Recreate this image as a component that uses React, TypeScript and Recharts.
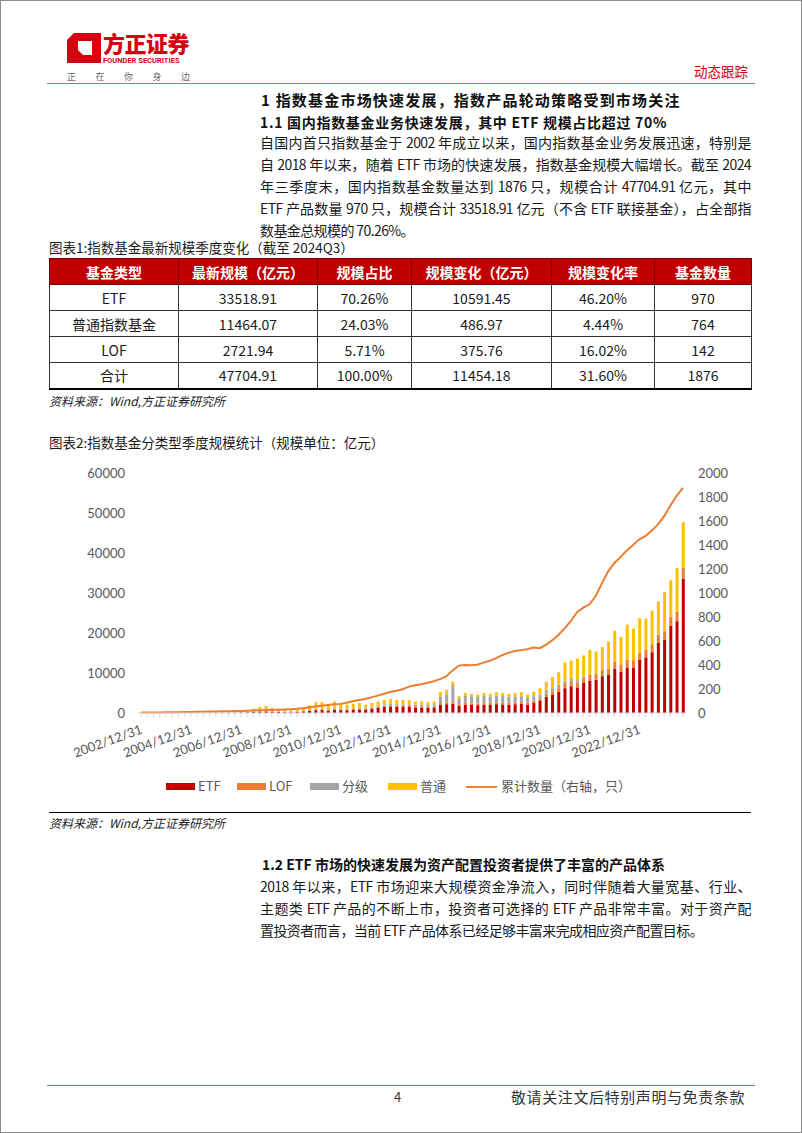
import { Bar, ComposedChart, Line, XAxis, YAxis } from "recharts";

// quarter-end dates, 2002Q4 .. 2024Q3
const quarters = [
  "2002/12/31",
  "2003/03/31", "2003/06/30", "2003/09/30", "2003/12/31",
  "2004/03/31", "2004/06/30", "2004/09/30", "2004/12/31",
  "2005/03/31", "2005/06/30", "2005/09/30", "2005/12/31",
  "2006/03/31", "2006/06/30", "2006/09/30", "2006/12/31",
  "2007/03/31", "2007/06/30", "2007/09/30", "2007/12/31",
  "2008/03/31", "2008/06/30", "2008/09/30", "2008/12/31",
  "2009/03/31", "2009/06/30", "2009/09/30", "2009/12/31",
  "2010/03/31", "2010/06/30", "2010/09/30", "2010/12/31",
  "2011/03/31", "2011/06/30", "2011/09/30", "2011/12/31",
  "2012/03/31", "2012/06/30", "2012/09/30", "2012/12/31",
  "2013/03/31", "2013/06/30", "2013/09/30", "2013/12/31",
  "2014/03/31", "2014/06/30", "2014/09/30", "2014/12/31",
  "2015/03/31", "2015/06/30", "2015/09/30", "2015/12/31",
  "2016/03/31", "2016/06/30", "2016/09/30", "2016/12/31",
  "2017/03/31", "2017/06/30", "2017/09/30", "2017/12/31",
  "2018/03/31", "2018/06/30", "2018/09/30", "2018/12/31",
  "2019/03/31", "2019/06/30", "2019/09/30", "2019/12/31",
  "2020/03/31", "2020/06/30", "2020/09/30", "2020/12/31",
  "2021/03/31", "2021/06/30", "2021/09/30", "2021/12/31",
  "2022/03/31", "2022/06/30", "2022/09/30", "2022/12/31",
  "2023/03/31", "2023/06/30", "2023/09/30", "2023/12/31",
  "2024/03/31", "2024/06/30", "2024/09/30",
];

// 规模（亿元）
const etf = [
  0, 0, 0, 0, 0, 0, 0, 0,
  50, 60, 70, 80, 90, 100, 110, 120,
  150, 180, 250, 350, 400, 300, 250, 200,
  180, 250, 380, 500, 700, 720, 600, 800,
  700, 680, 750, 900, 850, 1100, 1300, 1550,
  1650, 1550, 1500, 1500, 1400, 1400, 1300, 1400,
  2100, 2200, 2300, 1800, 2100, 2000, 1950, 2100,
  2050, 2200, 2150, 2100, 2200, 2300, 2100, 2600,
  3000, 4100, 4500, 5300, 6200, 6700, 6400, 7500,
  8100, 8300, 9200, 9500, 11000, 10300, 11400, 11400,
  13250, 13900, 15200, 17500, 18250, 21800, 22927, 33519,
];
const lof = [
  0, 0, 0, 0, 0, 0, 0, 0,
  0, 20, 30, 30, 30, 40, 40, 50,
  60, 70, 100, 130, 150, 120, 100, 80,
  70, 90, 130, 170, 250, 260, 220, 300,
  250, 230, 240, 250, 220, 240, 250, 270,
  280, 270, 260, 260, 240, 240, 230, 250,
  400, 450, 600, 400, 450, 420, 400, 450,
  430, 480, 470, 460, 480, 500, 460, 500,
  550, 700, 800, 900, 1050, 1100, 1200, 1300,
  1400, 1400, 1500, 1600, 1800, 1700, 1900, 1800,
  1900, 1900, 2000, 2100, 2200, 2300, 2346, 2722,
];
const graded = [
  0, 0, 0, 0, 0, 0, 0, 0,
  0, 0, 0, 0, 0, 0, 0, 0,
  0, 0, 0, 20, 50, 40, 30, 30,
  30, 40, 60, 80, 120, 150, 150, 220,
  200, 200, 220, 250, 230, 260, 300, 330,
  370, 380, 400, 430, 420, 450, 450, 520,
  1600, 2000, 4100, 1500, 1800, 1750, 1650, 1750,
  1650, 1700, 1600, 1500, 1450, 1400, 1200, 1100,
  1000, 1000, 900, 850, 800, 700, 600, 400,
  0, 0, 0, 0, 0, 0, 0, 0,
  0, 0, 0, 0, 0, 0, 0, 0,
];
const normal = [
  100, 100, 110, 120, 150, 200, 200, 220,
  250, 250, 250, 270, 280, 310, 350, 380,
  440, 550, 750, 1000, 1150, 840, 620, 490,
  370, 520, 830, 1150, 1630, 1570, 1130, 1580,
  1150, 990, 1090, 1100, 800, 900, 1050, 1150,
  1200, 1100, 1040, 1010, 840, 810, 720, 730,
  1150, 1150, 900, 500, 650, 630, 600, 700,
  670, 820, 780, 740, 870, 1000, 840, 1100,
  1650, 2000, 2800, 3150, 4550, 4600, 5400, 5200,
  6300, 5700, 5800, 6800, 7800, 7000, 8800, 7900,
  8550, 7800, 8400, 8300, 9750, 9100, 10977, 11464,
];
// 累计数量（只）
const count = [
  4, 4, 5, 5, 6, 6, 7, 8,
  9, 10, 11, 12, 13, 14, 15, 16,
  17, 18, 20, 22, 24, 26, 28, 30,
  32, 35, 40, 47, 55, 60, 66, 72,
  76, 86, 98, 108, 116, 130, 145, 160,
  175, 185, 198, 220, 232, 240, 252, 265,
  282, 305, 355, 395, 400, 398, 402, 420,
  435, 458, 482, 502, 516, 524, 532, 545,
  540, 568, 605, 650, 705, 765, 840, 878,
  906, 975, 1080, 1180, 1250, 1300, 1355, 1400,
  1447, 1475, 1520, 1572, 1640, 1730, 1810, 1876,
];

const leftTicks = [0, 10000, 20000, 30000, 40000, 50000, 60000];
const rightTicks = [0, 200, 400, 600, 800, 1000, 1200, 1400, 1600, 1800, 2000];

const tableHead = ["基金类型", "最新规模（亿元）", "规模占比", "规模变化（亿元）", "规模变化率", "基金数量"];
const tableRows = [
  ["ETF", "33518.91", "70.26%", "10591.45", "46.20%", "970"],
  ["普通指数基金", "11464.07", "24.03%", "486.97", "4.44%", "764"],
  ["LOF", "2721.94", "5.71%", "375.76", "16.02%", "142"],
  ["合计", "47704.91", "100.00%", "11454.18", "31.60%", "1876"],
];
const colWidths = [129, 139, 94, 140, 103, 97];

const para1 = [
  "自国内首只指数基金于 2002 年成立以来，国内指数基金业务发展迅速，特别是",
  "自 2018 年以来，随着 ETF 市场的快速发展，指数基金规模大幅增长。截至 2024",
  "年三季度末，国内指数基金数量达到 1876 只，规模合计 47704.91 亿元，其中",
  "ETF 产品数量 970 只，规模合计 33518.91 亿元（不含 ETF 联接基金），占全部指",
  "数基金总规模的 70.26%。",
];
const para2 = [
  "2018 年以来，ETF 市场迎来大规模资金净流入，同时伴随着大量宽基、行业、",
  "主题类 ETF 产品的不断上市，投资者可选择的 ETF 产品非常丰富。对于资产配",
  "置投资者而言，当前 ETF 产品体系已经足够丰富来完成相应资产配置目标。",
];

const CJK = '"Noto Sans CJK SC", "Noto Sans", sans-serif';
const RED = "#c00000";

const rows = quarters.map((q, i) => ({
  q,
  etf: etf[i],
  lof: lof[i],
  graded: graded[i],
  normal: normal[i],
  count: count[i],
}));

function XTick(props: any) {
  const { x, y, payload } = props;
  if (quarters.indexOf(payload.value) % 8 !== 0) return null;
  const ty = y + 14;
  return (
    <text
      x={x + 2}
      y={ty}
      textAnchor="end"
      transform={`rotate(-20 ${x + 2} ${ty})`}
      fill="#595959"
      fontSize={13}
      fontFamily="Lato, sans-serif"
    >
      {payload.value}
    </text>
  );
}

function Para({ lines, top }: { lines: string[]; top: number }) {
  return (
    <>
      {lines.map((t, i) => (
        <div
          key={i}
          style={{
            position: "absolute",
            left: 259,
            top: top + 2 + i * 22,
            width: 491,
            fontSize: 14,
            letterSpacing: -0.6,
            lineHeight: "18px",
            color: "#1a1a1a",
            textAlign: "justify",
            textAlignLast: i < lines.length - 1 ? "justify" : "left",
          }}
        >
          {t}
        </div>
      ))}
    </>
  );
}

const legendItems = [
  { name: "ETF", color: "#C00000", x: 165 },
  { name: "LOF", color: "#ED7D31", x: 236 },
  { name: "分级", color: "#A5A5A5", x: 309 },
  { name: "普通", color: "#FFC000", x: 387 },
];

export default function App() {
  const abs = (left: number, top: number, extra: any = {}) => ({
    position: "absolute" as const,
    left,
    top,
    whiteSpace: "nowrap" as const,
    ...extra,
  });

  return (
    <div
      style={{
        position: "absolute",
        left: 0,
        top: 0,
        width: 802,
        height: 1133,
        boxSizing: "border-box",
        border: "1px solid #8c8c8c",
        background: "#fff",
        fontFamily: CJK,
        overflow: "hidden",
      }}
    >
      {/* header */}
      <svg style={abs(66, 32)} width={34} height={30} viewBox="0 0 34 30">
        <path d="M7 0 H34 V30 H0 V7 Z" fill="#d7000f" />
        <path d="M11 8 H25 V22 H16 L11 17 Z" fill="#fff" />
      </svg>
      <div style={abs(102, 27, { fontSize: 22, fontWeight: 900, color: "#d7000f", lineHeight: "28px", letterSpacing: -0.5 })}>
        方正证券
      </div>
      <div style={abs(102, 55, { fontSize: 7.5, fontWeight: 700, color: "#d7000f", lineHeight: "9px", fontFamily: "Roboto, sans-serif" })}>
        FOUNDER SECURITIES
      </div>
      <div
        style={abs(66, 70, {
          width: 123,
          display: "flex",
          justifyContent: "space-between",
          fontSize: 9,
          color: "#666",
          lineHeight: "12px",
        })}
      >
        {["正", "在", "你", "身", "边"].map((c) => (
          <span key={c}>{c}</span>
        ))}
      </div>
      <div style={abs(693, 61, { fontSize: 13.5, color: "#d7000f", lineHeight: "18px" })}>动态跟踪</div>
      <div style={abs(46, 82, { width: 708, height: 1, background: "#e4606d" })} />

      {/* section 1 */}
      <div style={abs(260, 91, { fontSize: 15, fontWeight: 700, lineHeight: "16px", letterSpacing: 1.2, color: "#111" })}>
        1 指数基金市场快速发展，指数产品轮动策略受到市场关注
      </div>
      <div style={abs(259, 113, { fontSize: 14, fontWeight: 700, lineHeight: "16px", letterSpacing: 0.7, color: "#111" })}>
        1.1 国内指数基金业务快速发展，其中 ETF 规模占比超过 70%
      </div>
      <Para lines={para1} top={130} />

      {/* table 1 */}
      <div style={abs(48, 239, { fontSize: 13.5, lineHeight: "14px", color: "#1a1a1a" })}>
        图表1:指数基金最新规模季度变化（截至 2024Q3）
      </div>
      <table
        style={{
          position: "absolute",
          left: 48,
          top: 257,
          borderCollapse: "collapse",
          tableLayout: "fixed",
          width: 702,
          fontSize: 14,
          color: "#1a1a1a",
          borderBottom: "2px solid #000",
        }}
      >
        <colgroup>
          {colWidths.map((w, i) => (
            <col key={i} style={{ width: w }} />
          ))}
        </colgroup>
        <thead>
          <tr style={{ height: 26 }}>
            {tableHead.map((h, i) => (
              <th
                key={i}
                style={{
                  background: RED,
                  color: "#fff",
                  fontWeight: 700,
                  padding: 0,
                  border: "1px solid #7a0000",
                  textAlign: "center",
                }}
              >
                {h}
              </th>
            ))}
          </tr>
        </thead>
        <tbody>
          {tableRows.map((r, ri) => (
            <tr key={ri} style={{ height: 26 }}>
              {r.map((c, ci) => (
                <td
                  key={ci}
                  style={{
                    padding: 0,
                    textAlign: "center",
                    border: "1px solid #333",
                  }}
                >
                  {c}
                </td>
              ))}
            </tr>
          ))}
        </tbody>
      </table>
      <div style={abs(48, 392, { fontSize: 12, fontStyle: "italic", lineHeight: "16px", color: "#222" })}>
        资料来源：Wind,方正证券研究所
      </div>

      {/* figure 2 */}
      <div style={abs(48, 432, { fontSize: 13.5, lineHeight: "18px", color: "#1a1a1a" })}>
        图表2:指数基金分类型季度规模统计（规模单位：亿元）
      </div>
      <div style={{ position: "absolute", left: 0, top: 440, width: 802, height: 370 }}>
        <ComposedChart width={802} height={370} data={rows} margin={{ top: 32, right: 57, bottom: 48, left: 77 }}>
          <XAxis
            dataKey="q"
            interval={0}
            height={50}
            tick={(p: any) => <XTick {...p} />}
            tickSize={4}
            tickLine={{ stroke: "#d9d9d9" }}
            axisLine={{ stroke: "#d9d9d9" }}
          />
          <YAxis
            yAxisId="l"
            domain={[0, 60000]}
            ticks={leftTicks}
            width={60}
            axisLine={false}
            tickLine={false}
            tickMargin={7}
            tick={{ fill: "#595959", fontSize: 13, fontFamily: "Lato, sans-serif" }}
          />
          <YAxis
            yAxisId="r"
            orientation="right"
            domain={[0, 2000]}
            ticks={rightTicks}
            width={60}
            axisLine={false}
            tickLine={false}
            tickMargin={6}
            tick={{ fill: "#595959", fontSize: 13, fontFamily: "Lato, sans-serif", textAnchor: "start" }}
          />
          <Bar yAxisId="l" dataKey="etf" stackId="s" fill="#C00000" barSize={3} isAnimationActive={false} />
          <Bar yAxisId="l" dataKey="lof" stackId="s" fill="#ED7D31" barSize={3} isAnimationActive={false} />
          <Bar yAxisId="l" dataKey="graded" stackId="s" fill="#A5A5A5" barSize={3} isAnimationActive={false} />
          <Bar yAxisId="l" dataKey="normal" stackId="s" fill="#FFC000" barSize={3} isAnimationActive={false} />
          <Line
            yAxisId="r"
            type="linear"
            dataKey="count"
            stroke="#ED7D31"
            strokeWidth={2}
            dot={false}
            isAnimationActive={false}
          />
        </ComposedChart>
      </div>

      {/* legend */}
      {legendItems.map((it) => (
        <div key={it.name}>
          <div style={abs(it.x, 782, { width: 29, height: 7, background: it.color })} />
          <div style={abs(it.x + 32, 776, { fontSize: 13, lineHeight: "18px", color: "#595959" })}>{it.name}</div>
        </div>
      ))}
      <div style={abs(465, 785, { width: 31, height: 2, background: "#ED7D31" })} />
      <div style={abs(500, 776, { fontSize: 13, lineHeight: "18px", color: "#595959" })}>累计数量（右轴，只）</div>

      <div style={abs(48, 811, { width: 702, height: 1, background: "#000" })} />
      <div style={abs(48, 814, { fontSize: 12, fontStyle: "italic", lineHeight: "16px", color: "#222" })}>
        资料来源：Wind,方正证券研究所
      </div>

      {/* section 1.2 */}
      <div style={abs(261, 853, { fontSize: 14, fontWeight: 700, lineHeight: "20px", color: "#111" })}>
        1.2 ETF 市场的快速发展为资产配置投资者提供了丰富的产品体系
      </div>
      <Para lines={para2} top={874} />

      {/* footer */}
      <div style={abs(46, 1084, { width: 708, height: 1, background: "#e4606d" })} />
      <div style={abs(393, 1087, { fontSize: 13, lineHeight: "18px", color: "#333" })}>4</div>
      <div style={abs(510, 1086, { fontSize: 15, lineHeight: "20px", color: "#333", letterSpacing: 0.6 })}>
        敬请关注文后特别声明与免责条款
      </div>
    </div>
  );
}
